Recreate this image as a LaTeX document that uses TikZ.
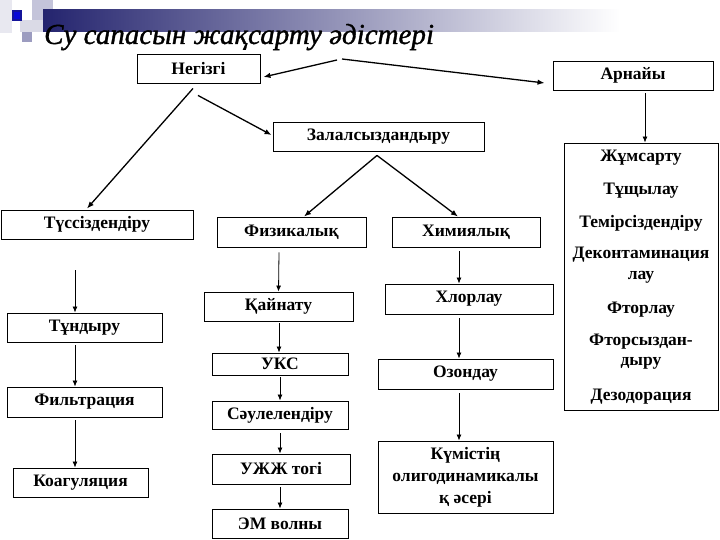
\documentclass[tikz,border=0pt]{standalone}
\usepackage{fontspec}
\setmainfont{Liberation Serif}
\newfontfamily\titlefont{Liberation Serif}[ItalicFeatures={FakeBold=1.2}]
\usetikzlibrary{arrows.meta,calc}
\definecolor{navybar}{HTML}{24246E}
\definecolor{lil1}{HTML}{E8E8F0}
\definecolor{lil2}{HTML}{C4C4DA}
\definecolor{lil3}{HTML}{9C9CC0}
\definecolor{lil4}{HTML}{DADAE6}
\definecolor{dblue}{HTML}{14149A}
\tikzset{
  box/.style={draw, line width=0.9pt, inner sep=0pt, align=center,
    font=\fontsize{17.5}{22}\selectfont\bfseries},
  txt/.style={inner sep=0pt, align=center, font=\fontsize{17.5}{22}\selectfont\bfseries},
  arr/.style={-{Latex[length=6pt,width=5pt]}, line width=0.8pt},
  darr/.style={-{Latex[length=7pt,width=5.5pt]}, line width=1.3pt},
}
\begin{document}
\begin{tikzpicture}[x=1pt,y=-1pt]
\useasboundingbox (0,0) rectangle (720,540);
% decoration
\fill[lil1] (0,0) rectangle (12,33);
\fill[lil4] (20,20) rectangle (43,32);
\fill[lil2] (32,0) rectangle (53,20);
\fill[lil3] (22,32) rectangle (32,42);
\shade[left color=navybar, right color=white] (43,10) rectangle (620,32);
\fill[dblue] (12,10) rectangle (22,21);
\fill[blue!60!dblue] (14,12) rectangle (20,19);
% title
\node[anchor=base west, inner sep=0pt, font=\titlefont\fontsize{29}{30}\selectfont\itshape] (title) at (44,44) {Су сапасын жақсарту әдістері};
% boxes
\node[box, minimum width=123, minimum height=29] (neg) at (198.5,68.5) {Негізгі};
\node[box, minimum width=160, minimum height=29] (arn) at (633,75.5) {Арнайы};
\node[box, minimum width=211, minimum height=29] (zal) at (378.5,136.5) {Залалсыздандыру};
\node[box, minimum width=192, minimum height=29] (tus) at (97,224.5) {Түссіздендіру};
\node[box, minimum width=149, minimum height=30] (fiz) at (291.5,232) {Физикалық};
\node[box, minimum width=148, minimum height=30] (him) at (466,232) {Химиялық};
\node[box, minimum width=149, minimum height=29] (qai) at (278.5,306.5) {Қайнату};
\node[box, minimum width=168, minimum height=30] (xlo) at (469,299) {Хлорлау};
\node[box, minimum width=155, minimum height=29] (tun) at (84.5,327.5) {Тұндыру};
\node[box, minimum width=155, minimum height=30] (fil) at (84.5,402) {Фильтрация};
\node[box, minimum width=135, minimum height=29] (koa) at (80.5,482.5) {Коагуляция};
\node[box, minimum width=136, minimum height=22] (uks) at (280,364) {УКС};
\node[box, minimum width=136, minimum height=28] (sau) at (280,415) {Сәулелендіру};
\node[box, minimum width=138, minimum height=30] (uzh) at (281,469) {УЖЖ тогі};
\node[box, minimum width=136, minimum height=29] (em) at (280,523.5) {ЭМ волны};
\node[box, minimum width=175, minimum height=30] (ozo) at (465.5,374) {Озондау};
\node[box, minimum width=175, minimum height=72] (kum) at (465.5,477) {Күмістің\\олигодинамикалы\\қ әсері};
\node[box, minimum width=154, minimum height=267] (big) at (641,276.5) {};
% texts in big box
\node[txt] (t1) at (641,158) {Жұмсарту};
\node[txt] (t2) at (641,191) {Тұщылау};
\node[txt] (t3) at (641,223) {Темірсіздендіру};
\node[txt] (t4) at (641,255) {Деконтаминация};
\node[txt] (t4b) at (641,277) {лау};
\node[txt] (t5) at (641,310) {Фторлау};
\node[txt] (t6) at (641,342) {Фторсыздан-};
\node[txt] (t6b) at (641,363) {дыру};
\node[txt] (t7) at (641,397) {Дезодорация};
% top arrows
\coordinate (s1) at (337,60);
\coordinate (s2) at (342,59);
\draw[darr] (s1) -- ($(neg.east)+(3,8.5)$);
\draw[darr] (s2) -- ($(arn.west)+(-8,7.5)$);
\draw[darr] ($(neg.south)+(-5.5,5)$) -- ($(tus.north)+(-10,-1)$);
\draw[darr] ($(neg.south)+(-0.5,12)$) -- ($(zal.west)+(-1,-1.5)$);
\draw[darr] ($(zal.south)+(-1.5,4)$) -- ($(fiz.north)+(12.5,0)$);
\draw[darr] ($(zal.south)+(-1.5,4)$) -- ($(him.north)+(-8,0)$);
% vertical arrows
\draw[arr] ($(arn.south)+(12,3)$) -- ($(big.north)+(4,0)$);
\draw[arr] ($(tus.south)+(-22,31)$) -- ($(tun.north)+(-9.5,0)$);
\draw[arr] ($(tun.south)+(-9.5,3)$) -- ($(fil.north)+(-9.5,0)$);
\draw[arr] ($(fil.south)+(-9.5,3)$) -- ($(koa.north)+(-5.5,0)$);
\draw[arr] ($(fiz.south)+(-12.5,5)$) -- (qai.north);
\draw[arr] ($(qai.south)+(0.5,2)$) -- ($(uks.north)+(-1,0)$);
\draw[arr] ($(uks.south)+(0,2)$) -- (sau.north);
\draw[arr] ($(sau.south)+(0,4)$) -- ($(uzh.north)+(-1,0)$);
\draw[arr] ($(uzh.south)+(-1,3)$) -- (em.north);
\draw[arr] ($(him.south)+(-7,4)$) -- ($(xlo.north)+(-10,0)$);
\draw[arr] ($(xlo.south)+(-10,4)$) -- ($(ozo.north)+(-6.5,0)$);
\draw[arr] ($(ozo.south)+(-6.5,4)$) -- ($(kum.north)+(-6.5,0)$);
\end{tikzpicture}
\end{document}
